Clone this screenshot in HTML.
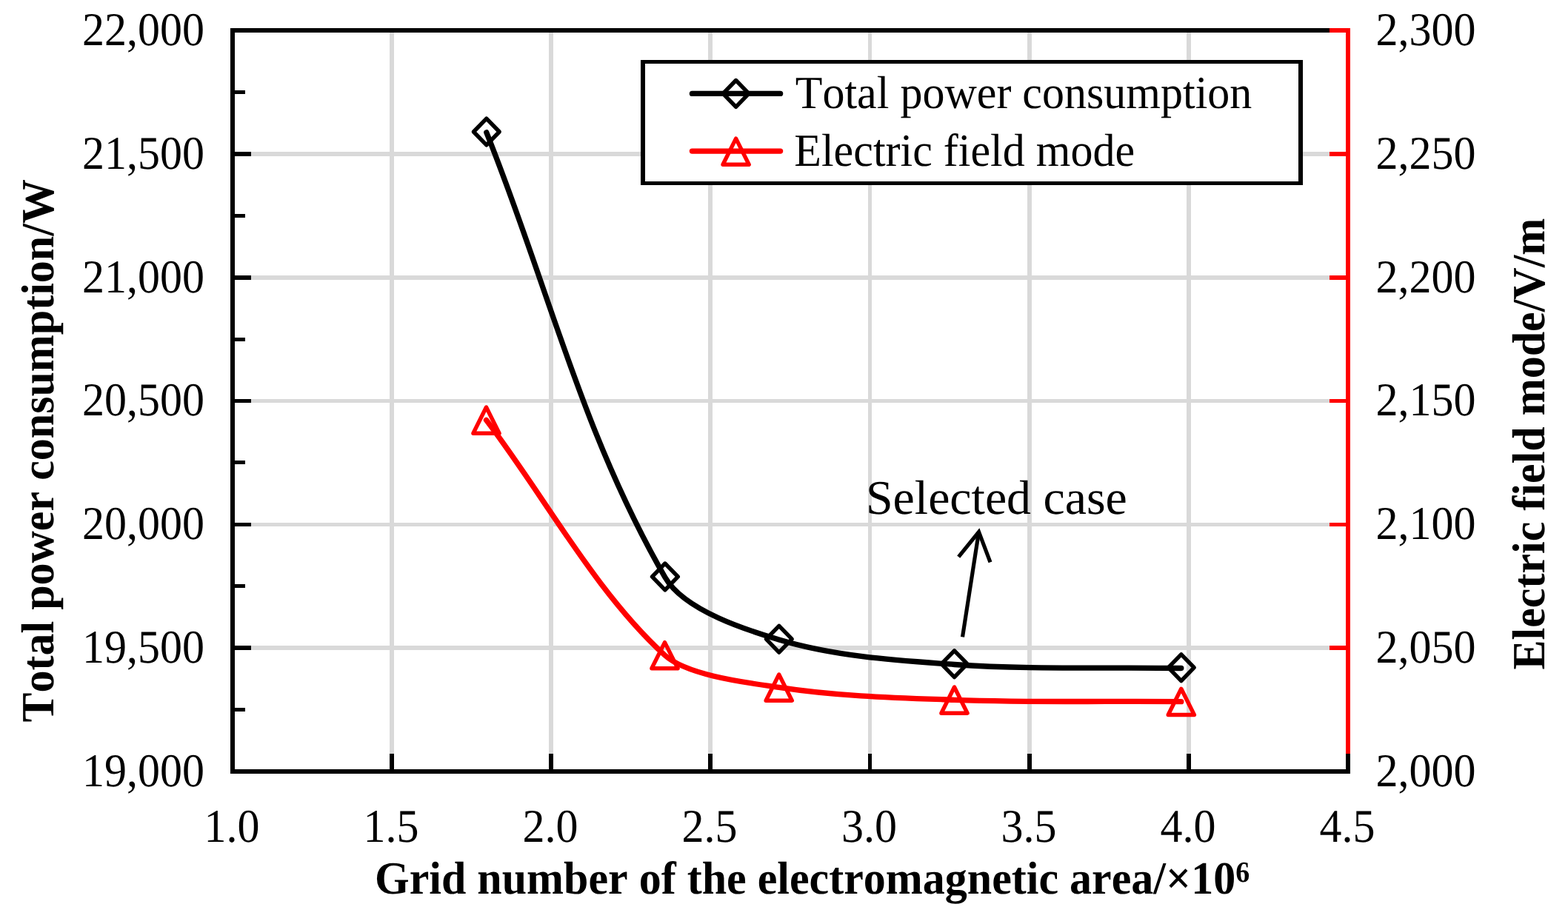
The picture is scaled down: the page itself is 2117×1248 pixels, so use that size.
<!DOCTYPE html>
<html lang="en">
<head>
<meta charset="utf-8">
<title>Grid independence: total power consumption and electric field mode</title>
<style>
html,body{margin:0;padding:0;background:#fff;}
body{width:2117px;height:1248px;overflow:hidden;}
svg{display:block;}
svg text{font-family:"Liberation Serif", "DejaVu Serif", serif;fill:#000;white-space:pre;font-kerning:none;font-variant-ligatures:none;font-feature-settings:"liga" 0,"clig" 0,"kern" 0;text-rendering:geometricPrecision;}
</style>
</head>
<body>
<svg width="2117" height="1248" viewBox="0 0 2117 1248">
<rect x="0" y="0" width="2117" height="1248" fill="#fff"/>
<g id="grid">
<rect x="526" y="44" width="6" height="995" fill="#d9d9d9"/>
<rect x="741" y="44" width="6" height="995" fill="#d9d9d9"/>
<rect x="956" y="44" width="6" height="995" fill="#d9d9d9"/>
<rect x="1172" y="44" width="5" height="995" fill="#d9d9d9"/>
<rect x="1387" y="44" width="6" height="995" fill="#d9d9d9"/>
<rect x="1602" y="44" width="6" height="995" fill="#d9d9d9"/>
<rect x="317" y="205" width="1500" height="6" fill="#d9d9d9"/>
<rect x="317" y="372" width="1500" height="6" fill="#d9d9d9"/>
<rect x="317" y="539" width="1500" height="5" fill="#d9d9d9"/>
<rect x="317" y="706" width="1500" height="5" fill="#d9d9d9"/>
<rect x="317" y="872" width="1500" height="6" fill="#d9d9d9"/>
</g>
<g id="legend-box">
<rect x="865" y="81" width="894" height="169" fill="#000"/>
<rect x="871" y="86" width="882" height="159" fill="#fff"/>
</g>
<g id="axes">
<rect x="311" y="38" width="1512" height="6" fill="#000"/>
<rect x="311" y="38" width="6" height="1007" fill="#000"/>
<rect x="311" y="1039" width="1512" height="6" fill="#000"/>
<rect x="1817" y="38" width="6" height="980" fill="#f00"/>
<rect x="1817" y="1018" width="6" height="27" fill="#000"/>
<rect x="317" y="205" width="22" height="6" fill="#000"/>
<rect x="317" y="372" width="22" height="6" fill="#000"/>
<rect x="317" y="539" width="22" height="5" fill="#000"/>
<rect x="317" y="706" width="22" height="5" fill="#000"/>
<rect x="317" y="872" width="22" height="6" fill="#000"/>
<rect x="317" y="122" width="14" height="5" fill="#000"/>
<rect x="317" y="289" width="14" height="5" fill="#000"/>
<rect x="317" y="456" width="14" height="5" fill="#000"/>
<rect x="317" y="622" width="14" height="5" fill="#000"/>
<rect x="317" y="789" width="14" height="5" fill="#000"/>
<rect x="317" y="956" width="14" height="5" fill="#000"/>
<rect x="526" y="1018" width="6" height="21" fill="#000"/>
<rect x="741" y="1018" width="6" height="21" fill="#000"/>
<rect x="956" y="1018" width="6" height="21" fill="#000"/>
<rect x="1172" y="1018" width="5" height="21" fill="#000"/>
<rect x="1387" y="1018" width="6" height="21" fill="#000"/>
<rect x="1602" y="1018" width="6" height="21" fill="#000"/>
<rect x="1795" y="38" width="22" height="6" fill="#f00"/>
<rect x="1795" y="205" width="22" height="6" fill="#f00"/>
<rect x="1795" y="372" width="22" height="6" fill="#f00"/>
<rect x="1795" y="539" width="22" height="5" fill="#f00"/>
<rect x="1795" y="706" width="22" height="5" fill="#f00"/>
<rect x="1795" y="872" width="22" height="6" fill="#f00"/>
</g>
<g id="series-power">
<path d="M656.8 178.8 C739.28 384.37 784.98 583.82 897.9 779.7 C925.02 826.74 1018.1 853.84 1051.8 864 C1126.89 886.64 1209.16 891.87 1288.5 897.5 C1390.16 904.71 1492.7 900.83 1594.8 902.5" stroke="#000" stroke-width="7.3" fill="none" stroke-linecap="round" stroke-linejoin="round"/>
<path d="M656.8 160.1 L674.2 178 L656.8 195.9 L639.4 178Z" stroke="#000" stroke-width="5.4" fill="none" stroke-linejoin="round"/>
<path d="M897.9 761 L915.3 778.9 L897.9 796.8 L880.5 778.9Z" stroke="#000" stroke-width="5.4" fill="none" stroke-linejoin="round"/>
<path d="M1051.8 845.3 L1069.2 863.2 L1051.8 881.1 L1034.4 863.2Z" stroke="#000" stroke-width="5.4" fill="none" stroke-linejoin="round"/>
<path d="M1288.5 878.8 L1305.9 896.7 L1288.5 914.6 L1271.1 896.7Z" stroke="#000" stroke-width="5.4" fill="none" stroke-linejoin="round"/>
<path d="M1594.8 883.8 L1612.2 901.7 L1594.8 919.6 L1577.4 901.7Z" stroke="#000" stroke-width="5.4" fill="none" stroke-linejoin="round"/>
</g>
<g id="series-field">
<path d="M656.5 567.3 C736.83 673.17 803.53 799.06 897.5 884.9 C929.54 914.17 1020.17 923.43 1051.7 928.3 C1129.52 940.32 1209.45 942.49 1288.5 945.3 C1390.49 948.92 1492.7 946.83 1594.8 947.6" stroke="#f00" stroke-width="7.3" fill="none" stroke-linecap="round" stroke-linejoin="round"/>
<path d="M656.5 550 L674.1 585.2 L638.9 585.2Z" stroke="#f00" stroke-width="5.4" fill="none" stroke-linejoin="round"/>
<path d="M897.5 867.6 L915.1 902.8 L879.9 902.8Z" stroke="#f00" stroke-width="5.4" fill="none" stroke-linejoin="round"/>
<path d="M1051.7 911 L1069.3 946.2 L1034.1 946.2Z" stroke="#f00" stroke-width="5.4" fill="none" stroke-linejoin="round"/>
<path d="M1288.5 928 L1306.1 963.2 L1270.9 963.2Z" stroke="#f00" stroke-width="5.4" fill="none" stroke-linejoin="round"/>
<path d="M1594.8 930.3 L1612.4 965.5 L1577.2 965.5Z" stroke="#f00" stroke-width="5.4" fill="none" stroke-linejoin="round"/>
</g>
<g id="legend">
<path d="M934.4 126.4 H1053.6" stroke="#000" stroke-width="7.3" stroke-linecap="round"/>
<path d="M993.6 108.5 L1011 126.4 L993.6 144.3 L976.2 126.4Z" stroke="#000" stroke-width="5.4" fill="none" stroke-linejoin="round"/>
<path d="M934.4 204.1 H1053.6" stroke="#f00" stroke-width="7.3" stroke-linecap="round"/>
<path d="M993.6 187.1 L1011.2 222.3 L976 222.3Z" stroke="#f00" stroke-width="5.4" fill="none" stroke-linejoin="round"/>
<text transform="translate(1073.8 145.8) scale(1 1.04)" font-size="60" text-anchor="start">Total power consumption</text>
<text transform="translate(1072.3 224.2) scale(1 1.04)" font-size="60" text-anchor="start">Electric field mode</text>
</g>
<g id="annotation">
<path d="M1299.5 860.3 L1321.53 718.44" stroke="#000" stroke-width="5.2" fill="none" stroke-linecap="butt"/>
<path d="M1294.2 752.1 L1321.53 718.44 L1337 759.3" stroke="#000" stroke-width="5.2" fill="none" stroke-linejoin="miter" stroke-miterlimit="10" stroke-linecap="butt"/>
<text transform="translate(1169 693.9) scale(1 0.99)" font-size="65.85" text-anchor="start">Selected case</text>
</g>
<g id="y-left-labels">
<text transform="translate(276 60.7) scale(1 1.06)" font-size="60" text-anchor="end">22,000</text>
<text transform="translate(276 227.7) scale(1 1.06)" font-size="60" text-anchor="end">21,500</text>
<text transform="translate(276 394.7) scale(1 1.06)" font-size="60" text-anchor="end">21,000</text>
<text transform="translate(276 561.2) scale(1 1.06)" font-size="60" text-anchor="end">20,500</text>
<text transform="translate(276 728.2) scale(1 1.06)" font-size="60" text-anchor="end">20,000</text>
<text transform="translate(276 894.7) scale(1 1.06)" font-size="60" text-anchor="end">19,500</text>
<text transform="translate(276 1061.7) scale(1 1.06)" font-size="60" text-anchor="end">19,000</text>
</g>
<g id="y-right-labels">
<text transform="translate(1857.5 60.7) scale(1 1.06)" font-size="60" text-anchor="start">2,300</text>
<text transform="translate(1857.5 227.7) scale(1 1.06)" font-size="60" text-anchor="start">2,250</text>
<text transform="translate(1857.5 394.7) scale(1 1.06)" font-size="60" text-anchor="start">2,200</text>
<text transform="translate(1857.5 561.2) scale(1 1.06)" font-size="60" text-anchor="start">2,150</text>
<text transform="translate(1857.5 728.2) scale(1 1.06)" font-size="60" text-anchor="start">2,100</text>
<text transform="translate(1857.5 894.7) scale(1 1.06)" font-size="60" text-anchor="start">2,050</text>
<text transform="translate(1857.5 1061.7) scale(1 1.06)" font-size="60" text-anchor="start">2,000</text>
</g>
<g id="x-labels">
<text transform="translate(313 1136.9) scale(1 1.06)" font-size="60" text-anchor="middle">1.0</text>
<text transform="translate(528 1136.9) scale(1 1.06)" font-size="60" text-anchor="middle">1.5</text>
<text transform="translate(743 1136.9) scale(1 1.06)" font-size="60" text-anchor="middle">2.0</text>
<text transform="translate(958 1136.9) scale(1 1.06)" font-size="60" text-anchor="middle">2.5</text>
<text transform="translate(1173.5 1136.9) scale(1 1.06)" font-size="60" text-anchor="middle">3.0</text>
<text transform="translate(1389 1136.9) scale(1 1.06)" font-size="60" text-anchor="middle">3.5</text>
<text transform="translate(1604 1136.9) scale(1 1.06)" font-size="60" text-anchor="middle">4.0</text>
<text transform="translate(1819 1136.9) scale(1 1.06)" font-size="60" text-anchor="middle">4.5</text>
</g>
<g id="titles">
<text transform="translate(506 1206.7) scale(1 1.04)" font-size="60" text-anchor="start" font-weight="bold">Grid number of the electromagnetic area/×10<tspan font-size="38" dy="-14.7">6</tspan></text>
<text transform="translate(72.4 975.5) rotate(-90) scale(1 1.04)" font-size="60" text-anchor="start" font-weight="bold">Total power consumption/W</text>
<text transform="translate(2084.5 904.5) rotate(-90) scale(1 1.04)" font-size="60" text-anchor="start" font-weight="bold">Electric field mode/V/m</text>
</g>
</svg>
</body>
</html>
